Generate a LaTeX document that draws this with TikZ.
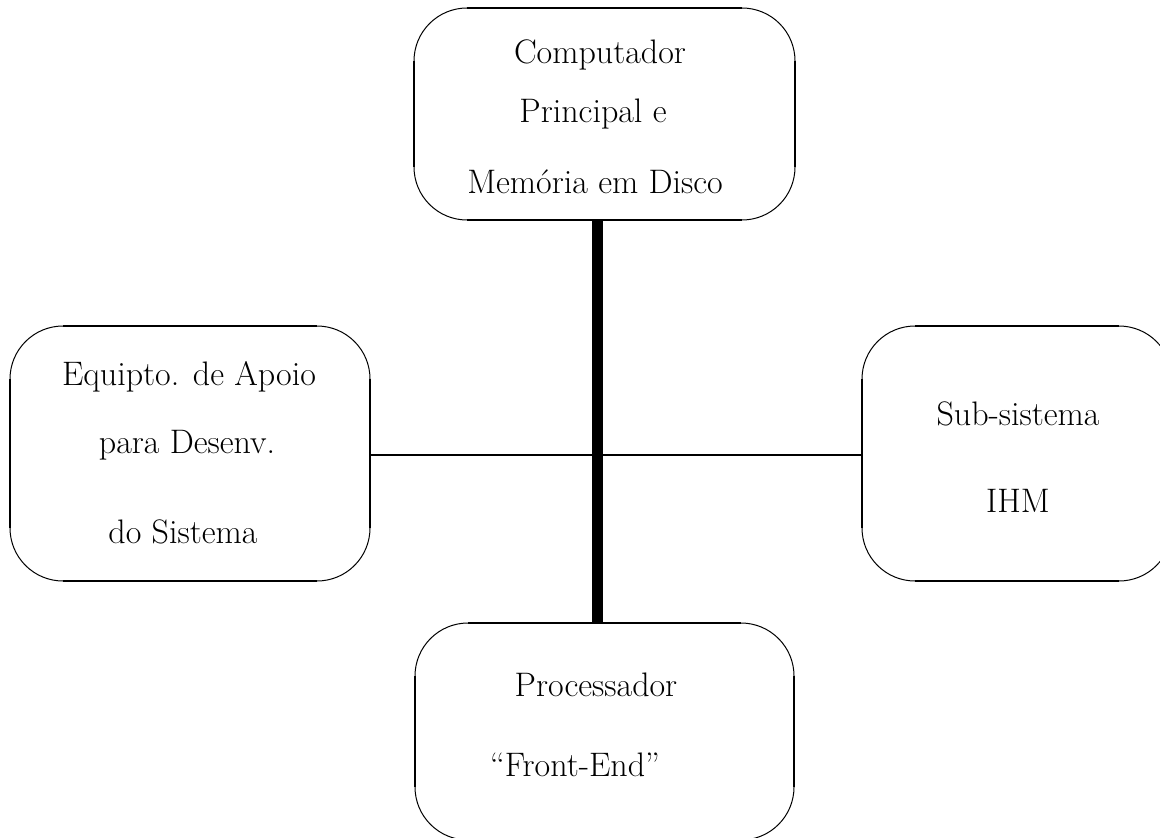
\documentclass[tikz,border=0pt]{standalone}
\usepackage{fontspec}
\begin{document}
\begin{tikzpicture}[x=0.5pt,y=0.5pt,
  unit/.style={draw=none,inner sep=0pt,outer sep=0pt},
  label/.style={anchor=base,inner sep=0pt,font=\fontsize{17}{20}\selectfont},
  side/.style={line width=1.1pt},
  corner/.style={line width=0.5pt},
  bus/.style={line width=5.5pt},
  link/.style={line width=1pt}]
\useasboundingbox (0,0) rectangle (1160,837);
\clip (0,0) rectangle (1160,837);

% rounded-corner outline: straight sides heavier than the corner arcs
\newcommand\softbox[1]{%
  \draw[side] ([xshift=26.5pt]#1.north west) -- ([xshift=-26.5pt]#1.north east);
  \draw[side] ([xshift=26.5pt]#1.south west) -- ([xshift=-26.5pt]#1.south east);
  \draw[side] ([yshift=-26.5pt]#1.north west) -- ([yshift=26.5pt]#1.south west);
  \draw[side] ([yshift=-26.5pt]#1.north east) -- ([yshift=26.5pt]#1.south east);
  \draw[corner] ([xshift=26.5pt]#1.north west) arc[start angle=90,end angle=180,radius=26.5pt];
  \draw[corner] ([yshift=-26.5pt]#1.north east) arc[start angle=0,end angle=90,radius=26.5pt];
  \draw[corner] ([yshift=26.5pt]#1.south west) arc[start angle=180,end angle=270,radius=26.5pt];
  \draw[corner] ([xshift=-26.5pt]#1.south east) arc[start angle=270,end angle=360,radius=26.5pt];
}

% boxes
\node[unit,minimum width=190.5pt,minimum height=106pt] (cpu) at (604.5,723) {};
\node[unit,minimum width=180pt,minimum height=127.5pt] (dev) at (190,383.5) {};
\node[unit,minimum width=155pt,minimum height=127.5pt] (ihm) at (1017,383.5) {};
\node[unit,minimum width=189.5pt,minimum height=108.5pt] (fe) at (604.5,105.5) {};

\softbox{cpu}
\softbox{dev}
\softbox{ihm}
\softbox{fe}

% labels
\node[label] (cpu1) at (600,773) {Computador};
\node[label] (cpu2) at (593,714) {Principal e};
\node[label] (cpu3) at (595,644) {Memória em Disco};

\node[label] (dev1) at (189,452) {Equipto. de Apoio};
\node[label] (dev2) at (187,384) {para Desenv.};
\node[label] (dev3) at (183,294) {do Sistema};

\node[label] (ihm1) at (1018,412) {Sub-sistema};
\node[label] (ihm2) at (1018,325) {IHM};

\node[label] (fe1) at (596,141) {Processador};
\node[label] (fe2) at (575,61) {“Front-End”};

% connections
\coordinate (hub) at (597.5,382);
\draw[link] (dev.east |- hub) -- (ihm.west |- hub);
\draw[bus] (hub |- cpu.south) -- (hub |- fe.north);
\end{tikzpicture}
\end{document}
